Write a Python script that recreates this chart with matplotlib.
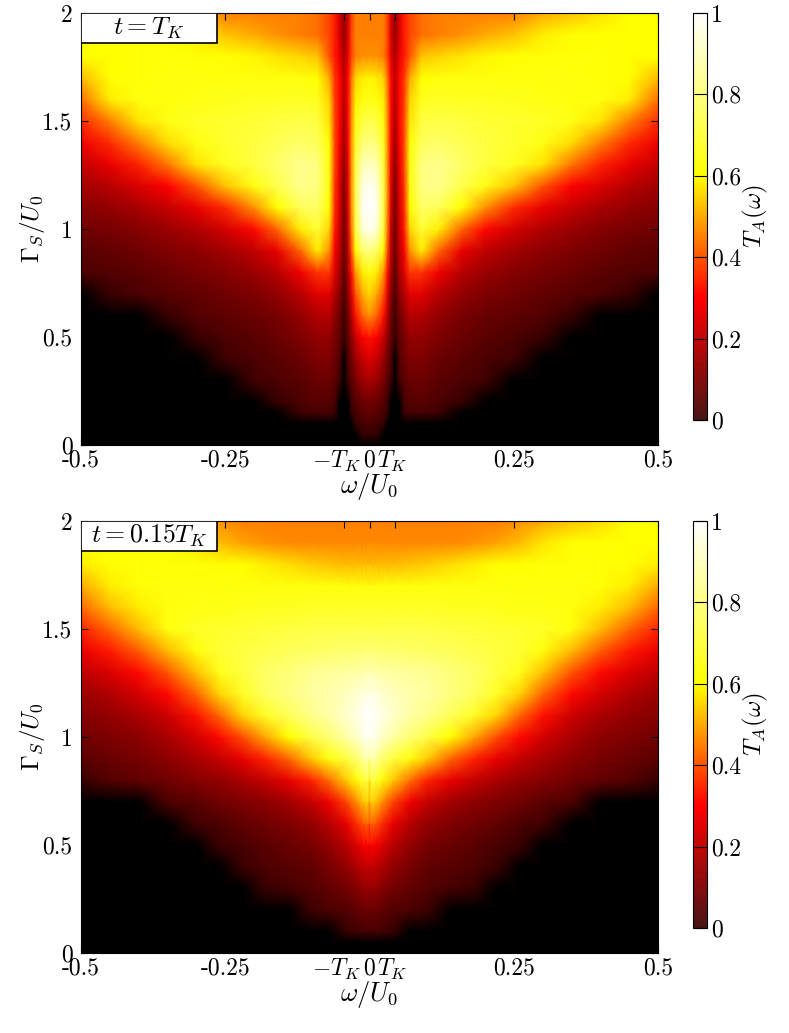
import numpy as np
import matplotlib
matplotlib.use("Agg")
import matplotlib.pyplot as plt
from matplotlib.cm import ScalarMappable
from matplotlib.colors import LinearSegmentedColormap, Normalize
from matplotlib.patches import Rectangle
from matplotlib.transforms import ScaledTranslation

plt.rcParams['font.family'] = ['cmr10', 'DejaVu Serif']
plt.rcParams['mathtext.fontset'] = 'cm'
plt.rcParams['axes.formatter.use_mathtext'] = True
plt.rcParams['axes.unicode_minus'] = False

# panel 1, t = T_K : only w >= 0 read, picture is mirror symmetric
w1 = [0, .012, .024, .031, .037, .044, .052, .06, .07, .09, .12, .16, .2, .25, .3, .35, .4, .45, .5]
g1 = [0, .05, .1, .15, .2, .3, .4, .5, .6, .7, .8, .9, 1.0, 1.1, 1.2, 1.3, 1.4, 1.5, 1.6, 1.7, 1.8, 1.9, 2.0]
T1 = [
 [0,   0,   0,   0,   0,   0,   0,   0,   0,   0,   0,   0,   0,   0,   0,   0,   0,   0,   0],
 [.02, .015,0,   0,   0,   0,   0,   0,   0,   0,   0,   0,   0,   0,   0,   0,   0,   0,   0],
 [.05, .04, .02, 0,   0,   0,   0,   .005,.01, .01, .006,0,   0,   0,   0,   0,   0,   0,   0],
 [.08, .07, .04, .02, 0,   0,   0,   .025,.04, .04, .03, .008,0,   0,   0,   0,   0,   0,   0],
 [.1,  .09, .06, .03, .01, 0,   .01, .04, .06, .07, .05, .02, .006,0,   0,   0,   0,   0,   0],
 [.18, .16, .11, .07, .04, 0,   .035,.07, .09, .09, .07, .05, .035,.006,0,   0,   0,   0,   0],
 [.25, .22, .16, .1,  .06, .005,.06, .09, .12, .12, .09, .07, .05, .03, .009,0,   0,   0,   0],
 [.32, .3,  .22, .15, .08, .02, .08, .11, .15, .15, .12, .09, .07, .05, .02, .004,0,   0,   0],
 [.47, .42, .32, .2,  .1,  .03, .1,  .14, .2,  .19, .15, .11, .09, .075,.06, .02, .008,0,   0],
 [.55, .5,  .4,  .26, .14, .05, .14, .19, .26, .26, .2,  .15, .12, .1,  .08, .065,.05, .02, .006],
 [.62, .58, .48, .32, .18, .07, .18, .25, .36, .36, .28, .2,  .16, .13, .11, .09, .07, .06, .05],
 [.8,  .76, .6,  .4,  .21, .09, .21, .29, .47, .58, .42, .27, .21, .17, .14, .12, .1,  .08, .07],
 [.98, .93, .7,  .45, .23, .1,  .23, .33, .55, .68, .58, .42, .31, .24, .19, .16, .13, .11, .1],
 [1,   .98, .72, .47, .25, .11, .25, .35, .6,  .76, .74, .6,  .47, .35, .27, .22, .18, .15, .13],
 [.98, .95, .72, .48, .26, .12, .26, .36, .62, .8,  .82, .72, .63, .53, .4,  .3,  .25, .2,  .17],
 [.9,  .88, .7,  .48, .28, .14, .28, .38, .62, .8,  .82, .76, .7,  .65, .57, .44, .34, .27, .22],
 [.8,  .78, .66, .48, .3,  .16, .3,  .38, .6,  .74, .76, .73, .7,  .67, .63, .56, .45, .35, .28],
 [.72, .7,  .62, .47, .31, .18, .31, .38, .57, .7,  .71, .7,  .68, .67, .66, .63, .57, .45, .35],
 [.63, .62, .58, .46, .31, .2,  .31, .37, .55, .64, .66, .65, .65, .64, .63, .62, .62, .58, .43],
 [.59, .58, .55, .44, .31, .21, .31, .36, .5,  .6,  .62, .62, .62, .62, .62, .62, .61, .6,  .52],
 [.47, .47, .45, .38, .28, .18, .28, .33, .4,  .53, .55, .57, .59, .6,  .61, .61, .61, .6,  .6],
 [.45, .45, .45, .38, .25, .15, .25, .33, .38, .43, .45, .47, .5,  .53, .58, .6,  .6,  .6,  .6],
 [.45, .45, .45, .38, .25, .15, .25, .33, .38, .43, .45, .45, .45, .45, .5,  .53, .57, .6,  .6],
]

# panel 2, t = 0.15 T_K
w2 = [0, .003, .01, .02, .04, .07, .1, .14, .18, .22, .26, .3, .35, .4, .45, .5]
g2 = [0, .05, .1, .2, .3, .4, .5, .6, .7, .8, .9, 1.0, 1.1, 1.2, 1.3, 1.4, 1.5, 1.6, 1.7, 1.8, 1.9, 2.0]
T2 = [
 [0,   0,   0,   0,   0,   0,   0,   0,   0,   0,   0,   0,   0,   0,   0,   0],
 [0,   0,   0,   0,   0,   0,   0,   0,   0,   0,   0,   0,   0,   0,   0,   0],
 [.04, .04, .04, .035,.02, .008,0,   0,   0,   0,   0,   0,   0,   0,   0,   0],
 [.09, .09, .09, .08, .06, .05, .03, .011,.004,0,   0,   0,   0,   0,   0,   0],
 [.15, .15, .15, .13, .1,  .08, .06, .04, .02, .006,0,   0,   0,   0,   0,   0],
 [.21, .22, .21, .19, .15, .11, .08, .065,.05, .025,.009,0,   0,   0,   0,   0],
 [.28, .3,  .29, .26, .2,  .15, .11, .09, .07, .045,.025,.009,.002,0,   0,   0],
 [.38, .42, .4,  .36, .27, .2,  .15, .12, .1,  .08, .05, .035,.01, .004,0,   0],
 [.48, .55, .53, .48, .38, .28, .22, .17, .14, .12, .1,  .07, .05, .012,.005,.004],
 [.58, .7,  .68, .62, .54, .43, .34, .27, .22, .18, .15, .13, .1,  .08, .06, .02],
 [.8,  .88, .85, .78, .7,  .62, .54, .42, .34, .27, .22, .18, .14, .11, .09, .07],
 [.98, .98, .96, .92, .86, .78, .71, .6,  .5,  .39, .31, .24, .18, .14, .12, .1],
 [1,   1,   .99, .96, .92, .86, .82, .74, .66, .55, .42, .32, .23, .18, .15, .13],
 [.96, .96, .95, .93, .9,  .87, .85, .8,  .75, .66, .55, .42, .31, .24, .19, .16],
 [.88, .88, .87, .86, .85, .84, .83, .79, .76, .7,  .64, .53, .4,  .31, .25, .21],
 [.78, .78, .78, .77, .77, .76, .75, .74, .72, .7,  .68, .62, .52, .41, .33, .27],
 [.71, .71, .71, .71, .71, .71, .71, .7,  .69, .68, .67, .66, .62, .52, .42, .34],
 [.66, .66, .66, .66, .66, .66, .66, .65, .65, .64, .63, .63, .62, .58, .52, .42],
 [.62, .62, .62, .62, .62, .62, .62, .62, .62, .62, .62, .62, .62, .61, .58, .5],
 [.52, .52, .52, .52, .52, .53, .54, .56, .58, .6,  .6,  .61, .61, .61, .6,  .58],
 [.46, .46, .46, .46, .46, .46, .46, .46, .47, .49, .52, .57, .6,  .6,  .6,  .6],
 [.45, .45, .45, .45, .45, .45, .45, .45, .45, .45, .47, .5,  .53, .56, .6,  .6],
]

panel_labels = [r'$t=T_K$', r'$t=0.15T_K$']
x_ticks = [-0.5, -0.25, -0.044, 0, 0.044, 0.25, 0.5]
x_ticklabels = ['-0.5', '-0.25', r'$-T_K$', '0', r'$T_K$', '0.25', '0.5']
x_shift_px = [0, 0, -7.5, 0, -2.5, 0, 0]
y_ticks = [0, 0.5, 1, 1.5, 2]
y_ticklabels = ['0', '0.5', '1', '1.5', '2']
cb_ticks = [0, 0.2, 0.4, 0.6, 0.8, 1]
cb_ticklabels = ['0', '0.2', '0.4', '0.6', '0.8', '1']

# black under a small cutoff, then dark red -> red -> yellow -> white
cmap = LinearSegmentedColormap.from_list(
    'tk', [(0, (0, 0, 0)), (0.012, (0, 0, 0)), (0.013, (0.2, 0, 0)), (0.3, (1, 0, 0)), (0.6, (1, 1, 0)), (1, (1, 1, 1))], N=1024)
cmap_bar = LinearSegmentedColormap.from_list(
    'tkbar', [(0, (0.28, 0.08, 0.08)), (0.3, (1, 0, 0)), (0.6, (1, 1, 0)), (1, (1, 1, 1))], N=256)

W, H = 789, 1033
fig = plt.figure(figsize=(W / 100, H / 100), dpi=100)


def mirror(w, T):
    w = np.array(w)
    T = np.array(T)
    return np.concatenate([-w[:0:-1], w]), np.hstack([T[:, :0:-1], T])


panels = [(w1, g1, T1, 13, 445, 420), (w2, g2, T2, 521, 953, 928)]
for i, (w, g, T, top, bot, cbot) in enumerate(panels):
    ax = fig.add_axes([81 / W, 1 - bot / H, 577 / W, (bot - top) / H])
    ww, TT = mirror(w, T)
    ax.pcolormesh(ww, g, TT, cmap=cmap, vmin=0, vmax=1, shading='gouraud', rasterized=True)
    ax.set_xlim(-0.5, 0.5)
    ax.set_ylim(0, 2)
    ax.set_xticks(x_ticks)
    ax.set_xticklabels(x_ticklabels, fontsize=17)
    ax.set_yticks(y_ticks)
    ax.set_yticklabels(y_ticklabels, fontsize=17)
    ax.tick_params(axis='x', direction='in', top=True, length=5, width=0.8, pad=3)
    ax.tick_params(axis='y', direction='in', right=True, length=5, width=0.8, pad=6)
    for lab, dx in zip(ax.get_xticklabels(), x_shift_px):
        lab.set_transform(lab.get_transform() + ScaledTranslation(dx / 100, 0, fig.dpi_scale_trans))
    ax.set_xlabel(r'$\omega/U_0$', fontsize=19, labelpad=-2.5)
    ax.set_ylabel(r'$\Gamma_S/U_0$', fontsize=18, labelpad=0)
    ax.yaxis.set_label_coords(-34 / 577, 0.5)

    ax.add_patch(Rectangle((0, 1 - 30 / 432), 136 / 577, 30 / 432, transform=ax.transAxes,
                           facecolor='white', edgecolor='black', lw=1.2, zorder=5))
    ax.text(68 / 577, 1 - 15 / 432, panel_labels[i], transform=ax.transAxes, ha='center', va='center',
            fontsize=18.5, zorder=6)

    cax = fig.add_axes([693 / W, 1 - cbot / H, 13.5 / W, (cbot - top) / H])
    cb = fig.colorbar(ScalarMappable(Normalize(0, 1), cmap_bar), cax=cax)
    cb.set_ticks(cb_ticks)
    cb.set_ticklabels(cb_ticklabels, fontsize=17)
    cb.ax.tick_params(direction='in', length=9.7, width=0.8, pad=3)
    cb.set_label(r'$T_A(\omega)$', fontsize=18, labelpad=0)

fig.savefig('out.png', dpi=100)
